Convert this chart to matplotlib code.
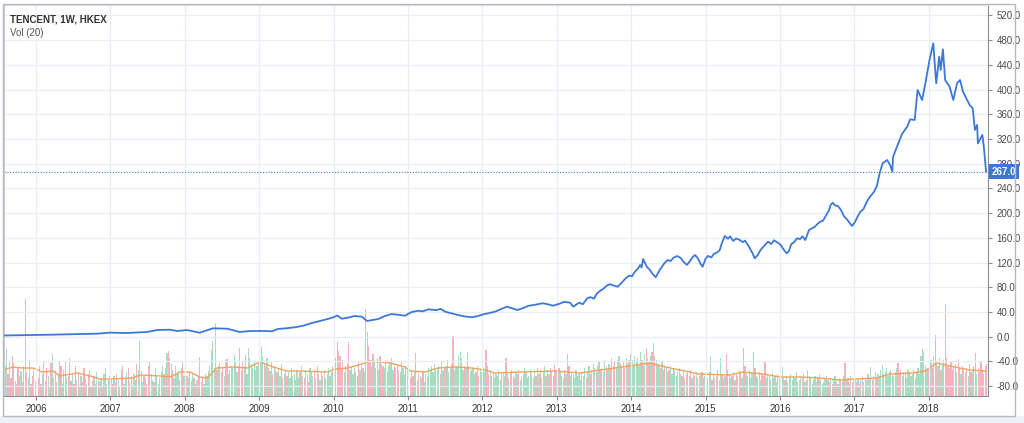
import matplotlib
matplotlib.use('Agg')
import matplotlib.pyplot as plt
from matplotlib.patches import Rectangle

plt.rcParams['font.family'] = ['Liberation Sans', 'DejaVu Sans']

# weekly close (decimal year, HKD)
price_t = [2005.57, 2006.19, 2006.82, 2006.99, 2007.22, 2007.49, 2007.63, 2007.80, 2007.90, 2008.03,
           2008.20, 2008.38, 2008.57, 2008.74, 2008.88, 2009.08, 2009.17, 2009.25, 2009.35, 2009.48,
           2009.60, 2009.71, 2009.82, 2009.92, 2010.00, 2010.05, 2010.11, 2010.20, 2010.28, 2010.38,
           2010.45, 2010.52, 2010.60, 2010.68, 2010.78, 2010.86, 2010.96, 2011.05, 2011.14, 2011.20,
           2011.27, 2011.38, 2011.44, 2011.50, 2011.58, 2011.67, 2011.75, 2011.86, 2011.94, 2012.03,
           2012.10, 2012.17, 2012.24, 2012.33, 2012.40, 2012.47, 2012.55, 2012.62, 2012.70, 2012.81,
           2012.88, 2012.95, 2013.04, 2013.10, 2013.18, 2013.22, 2013.30, 2013.35, 2013.41, 2013.45,
           2013.50, 2013.54, 2013.58, 2013.62, 2013.67, 2013.71, 2013.76, 2013.82, 2013.88, 2013.94,
           2013.98, 2014.01, 2014.05, 2014.09, 2014.12, 2014.14, 2014.16, 2014.21, 2014.25, 2014.29,
           2014.33, 2014.36, 2014.39, 2014.44, 2014.49, 2014.53, 2014.57, 2014.62, 2014.67, 2014.70,
           2014.75, 2014.80, 2014.83, 2014.86, 2014.90, 2014.93, 2014.96, 2015.00, 2015.03, 2015.08,
           2015.11, 2015.15, 2015.19, 2015.22, 2015.26, 2015.30, 2015.33, 2015.37, 2015.41, 2015.46,
           2015.50, 2015.53, 2015.57, 2015.61, 2015.63, 2015.66, 2015.70, 2015.74, 2015.78, 2015.84,
           2015.88, 2015.92, 2015.97, 2016.01, 2016.05, 2016.09, 2016.12, 2016.15, 2016.19, 2016.23,
           2016.27, 2016.30, 2016.34, 2016.39, 2016.43, 2016.47, 2016.50, 2016.54, 2016.58, 2016.62,
           2016.66, 2016.68, 2016.71, 2016.74, 2016.78, 2016.82, 2016.86, 2016.90, 2016.94, 2016.97,
           2017.01, 2017.04, 2017.08, 2017.12, 2017.15, 2017.18, 2017.22, 2017.26, 2017.30, 2017.34,
           2017.38, 2017.44, 2017.48, 2017.51, 2017.52, 2017.59, 2017.64, 2017.71, 2017.75, 2017.81,
           2017.85, 2017.91, 2017.95, 2018.01, 2018.06, 2018.10, 2018.14, 2018.16, 2018.19, 2018.22,
           2018.28, 2018.33, 2018.38, 2018.42, 2018.46, 2018.55, 2018.59, 2018.62, 2018.65, 2018.66,
           2018.72, 2018.74, 2018.77]
prices = [2.0, 3.2, 4.9, 6.5, 6.0, 7.6, 10.8, 11.3, 9.2, 10.8,
          6.5, 13.6, 12.9, 7.6, 9.2, 9.2, 8.7, 12.5, 13.5, 15.2,
          18.0, 22.2, 25.5, 28.6, 31.5, 34.3, 29.1, 31.0, 33.5, 32.4,
          25.4, 27.0, 28.6, 33.0, 36.7, 35.5, 34.0, 40.0, 42.0, 41.0,
          44.3, 43.0, 45.0, 40.5, 38.0, 35.1, 33.0, 31.4, 33.5, 36.7,
          38.5, 40.5, 44.0, 48.6, 46.0, 43.2, 46.5, 50.0, 51.5, 54.1,
          52.5, 50.2, 53.5, 56.5, 55.0, 48.6, 55.0, 52.5, 62.2, 64.0,
          61.5, 70.0, 74.0, 77.0, 82.5, 85.0, 83.0, 80.9, 88.5, 96.1,
          99.0, 97.5, 105.2, 110.0, 116.0, 112.0, 125.8, 113.3, 108.0, 101.5,
          96.1, 103.0, 109.1, 118.0, 124.1, 122.5, 128.0, 130.6, 127.0, 121.5,
          116.1, 124.0, 129.5, 132.2, 126.0, 118.5, 113.3, 126.0, 130.6, 128.5,
          134.0, 136.0, 140.0, 152.0, 163.0, 158.5, 162.5, 155.0, 159.0, 156.5,
          153.0, 155.5, 148.4, 140.0, 135.5, 126.9, 132.0, 140.5, 146.0, 153.8,
          150.0, 156.0, 152.2, 148.5, 141.0, 135.0, 138.5, 149.5, 153.0, 159.3,
          158.0, 162.5, 156.5, 172.7, 175.5, 178.0, 182.0, 186.1, 188.0, 196.5,
          205.0, 213.0, 216.9, 212.5, 211.5, 205.0, 195.0, 190.0, 183.5, 179.2,
          186.0, 193.5, 202.3, 206.0, 214.0, 221.3, 228.0, 234.0, 242.8, 265.0,
          280.7, 286.0, 277.9, 267.1, 291.3, 313.0, 328.1, 339.9, 351.9, 350.8,
          399.3, 383.1, 407.4, 447.9, 474.9, 410.2, 453.2, 431.7, 465.2, 415.5,
          404.7, 383.1, 410.2, 415.5, 396.6, 375.0, 369.7, 334.6, 342.7, 313.0,
          326.5, 307.5, 267.0]
last_price = 267.0

# weekly volume per year, negative = down week (pink), positive = up week (green)
vol_2005 = [30, 47, -22, 35, -18, -40, -33, 15, -12, -28, 20, 25, -14, -30, -97, -24, 18, 36, -12, -20, 26, 15]
vol_2006 = [25, -18, 30, -12, 22, -35, 15, -28, 20, 10, -33, 42, 18, -25, -14, 22, -35, -30, 12, -26,
            -34, 18, -20, 38, -15, 22, -12, -30, 16, -24, 10, 20, -14, -28, 18, 12, -22, 26, 10, -15,
            20, 12, 24, -16, 14, 18, -10, 22, 28, -12, 16, 20]
vol_2007 = [18, -12, 20, 14, -22, 16, -10, -26, -30, 12, -18, 24, -28, 15, -20, 10, 22, -16, -32, 26,
            55, -25, 14, -20, 18, -12, -30, -34, 22, 16, -14, -28, 20, 12, -18, 24, 30, -22, 28, 43,
            -45, -38, 32, -26, 18, -30, 22, 25, -16, 28, -34, 20]
vol_2008 = [26, -20, 18, -24, -15, 22, -18, -12, 16, -20, -39, 14, -18, 12, -22, 20, 25, 30, -46, 55,
            28, 73, -26, 30, -33, 24, -28, 20, 36, -37, 22, 26, -30, 28, 41, -34, 24, -30, -48, 26,
            -35, 30, -41, 22, 48, -38, -32, 28, 35, -26, 30, 33]
vol_2009 = [35, -49, 40, -32, 30, 38, -28, 25, 34, -22, 30, 26, -24, 28, 20, 32, -18, 22, -26, -20,
            24, 18, -28, 20, 22, -16, 26, 18, -24, 30, 20, -18, 26, 22, -14, 28, 24, 20, -26, 18,
            30, -22, 16, 24, -20, 26, 18, -22, 28, 20, 24, 30]
vol_2010 = [-30, -38, -54, -45, -40, 28, -36, 24, 30, -32, -54, 26, -30, 22, 28, -24, 20, -34, 26, 30,
            -28, 24, -87, -64, -50, -36, 30, -42, 34, -28, 38, 26, -40, 32, -30, 28, 36, -24, 30, 34,
            -38, 26, -30, 28, 32, -26, 24, -34, 28, 22, -30, 26]
vol_2011 = [22, -18, 26, -20, 24, -43, 16, -22, 20, 18, -24, 14, 22, -20, 28, 26, -30, 24, 32, -26,
            28, 30, -22, 34, 26, -28, 30, -36, 24, 28, -32, -60, 26, 30, -28, 40, 44, -38, 26, -30,
            28, 44, -30, 24, -26, 28, 22, -24, 30, -20, 26, 24]
vol_2012 = [-28, 24, -46, 30, -22, 26, 20, -24, 18, 22, -20, 26, 16, -22, 24, 20, -38, 22, 18, -24,
            26, 20, -18, 24, 22, -26, 16, 20, -22, 28, 24, -18, 20, 26, -22, 18, 24, -20, 28, 22,
            -26, 18, 24, 30, -20, 26, 22, -28, 24, 20, -32, 26]
vol_2013 = [22, -28, 24, -20, 18, -26, 22, -42, -30, 20, 24, -22, 18, 26, -20, 22, 16, -24, 20, 28,
            -18, 24, 30, -22, 26, 32, 28, -24, 30, 34, -26, 28, 24, 36, -30, 26, 32, -28, 38, 30,
            -34, 28, 36, 40, -32, 30, 34, -28, 38, 32, -36, 42]
vol_2014 = [36, -30, 40, 34, -38, 32, 44, -36, 30, 42, -48, 38, -34, 40, -44, 53, -40, 36, -32, 30,
            -28, 34, 26, -30, 28, 24, -26, 30, 22, -28, 26, 20, -24, 28, 22, -20, 26, 18, -22, 24,
            20, -26, 18, 22, -20, 24, -18, 20, 22, -24, 18, 20]
vol_2015 = [20, -18, 24, 40, -16, 22, 18, -20, 26, 16, 38, -22, 18, 20, -43, -26, 22, 18, -20, 24,
            16, -22, 20, 26, -24, 18, -48, -30, 22, 20, -26, 18, 24, 44, -28, 20, -18, 24, 16, -22,
            20, -34, 18, 22, -20, 16, 24, -18, 20, 14, -22, 18]
vol_2016 = [-22, 29, 18, -16, 20, 14, -18, 22, 16, -20, 18, 24, -14, 16, 20, -18, 22, 14, 16, 26,
            -20, 18, 12, -16, 20, 14, -18, 22, 16, 12, -14, 18, 20, -16, 14, 18, -12, 16, 20, -14,
            12, 18, -16, 14, -20, -33, 16, -18, 12, 20, -14, 18]
vol_2017 = [16, -14, 18, 12, -16, 20, 14, -18, 16, 22, 18, 29, -16, 20, 24, -18, 22, 20, 26, 31,
            -22, 24, 28, 20, -24, 26, 22, -20, 24, 28, -33, 22, -26, 20, 24, -22, 18, 26, -24, 20,
            22, -26, 18, 24, 28, -22, 40, 48, 45, -30, 26, -28]
vol_2018 = [-30, 36, -28, -40, -61, -34, 30, -38, -26, 32, -36, -92, -38, -30, 28, -34, -26, 30, -32, 24,
            -37, -28, 22, -30, -26, 24, -28, 20, -32, -24, 26, -30, -43, 22, -28, 24, -34, -26, 22, -30,
            -32]

# Vol(20) moving average line
ma_t = [2005.56, 2005.69, 2005.83, 2005.96, 2006.09, 2006.23, 2006.32, 2006.55, 2006.73, 2006.86,
        2006.99, 2007.30, 2007.40, 2007.67, 2007.80, 2007.94, 2008.07, 2008.20, 2008.30, 2008.43,
        2008.65, 2008.84, 2009.01, 2009.19, 2009.37, 2009.55, 2009.92, 2010.02, 2010.19, 2010.38,
        2010.49, 2010.76, 2010.96, 2011.03, 2011.23, 2011.40, 2011.63, 2011.86, 2012.03, 2012.17,
        2012.51, 2012.99, 2013.31, 2013.58, 2013.98, 2014.25, 2014.52, 2014.92, 2015.33, 2015.50,
        2015.77, 2016.00, 2016.27, 2016.54, 2016.81, 2017.01, 2017.30, 2017.48, 2017.79, 2017.95,
        2018.11, 2018.28, 2018.55, 2018.76]
ma_v = [26, 29, 28, 28, 24, 25, 20, 23, 20, 17, 17, 18, 21, 20, 19, 24, 24, 19, 18, 28,
        29, 28, 34, 29, 25, 25, 24, 27, 28, 32, 35, 33, 29, 25, 24, 28, 29, 28, 26, 23,
        24, 25, 23, 26, 30, 33, 28, 22, 21, 24, 22, 19, 19, 18, 16, 17, 18, 22, 23, 25,
        33, 30, 26, 25]

years = list(range(2006, 2019))
price_ticks = list(range(-80, 521, 40))

vol_by_year = {2005: vol_2005, 2006: vol_2006, 2007: vol_2007, 2008: vol_2008, 2009: vol_2009,
               2010: vol_2010, 2011: vol_2011, 2012: vol_2012, 2013: vol_2013, 2014: vol_2014,
               2015: vol_2015, 2016: vol_2016, 2017: vol_2017, 2018: vol_2018}

bar_x, bar_h, bar_c = [], [], []
for yr, vals in vol_by_year.items():
    first_wk = 30 if yr == 2005 else 0
    for k, v in enumerate(vals):
        bar_x.append(yr + (first_wk + k + 0.5) / 52.0)
        bar_h.append(abs(v))
        bar_c.append('#a9dcc0' if v > 0 else '#f5b2bc')

BLUE = '#3d78d8'
GRID = '#e7eef5'
AXIS = '#8c8c8c'

fig = plt.figure(figsize=(10.24, 4.23), dpi=100)
fig.patch.set_facecolor('white')
ax = fig.add_axes([4/1024, 27/423, 984/1024, 391/423])
axv = ax.twinx()

# volume pane
axv.bar(bar_x, bar_h, width=0.85/52, color=bar_c, linewidth=0)
axv.plot(ma_t, ma_v, color='#f6a25e', lw=1.0)
axv.set_ylim(0, 391)
axv.set_yticks([])
for s in axv.spines.values():
    s.set_visible(False)

ax.set_zorder(axv.get_zorder() + 1)
ax.patch.set_visible(False)

# price pane
ax.plot(price_t, prices, color=BLUE, lw=1.3, zorder=3, solid_joinstyle='round')
ax.axhline(last_price, color=BLUE, lw=0.8, ls=(0, (1, 1.5)), zorder=2)

ax.set_xlim(2005.57, 2018.796)
ax.set_ylim(-96.0, 536.9)

ax.yaxis.tick_right()
ax.set_yticks(price_ticks)
ax.set_yticklabels([f'{v:.1f}' for v in price_ticks])
ax.set_xticks(years)
ax.set_xticklabels([str(y) for y in years])
ax.tick_params(axis='y', direction='out', length=3, width=0.8, color=AXIS,
               labelsize=7, labelcolor='#4a4a4a', pad=3)
ax.tick_params(axis='x', direction='out', length=3, width=0.8, color=AXIS,
               labelsize=7, labelcolor='#333333', pad=3)
ax.grid(color=GRID, linewidth=0.9, zorder=0)
ax.set_axisbelow(True)

ax.spines['left'].set_color('#cfd3d9')
ax.spines['top'].set_color('#dfe3e8')
ax.spines['right'].set_color(AXIS)
ax.spines['bottom'].set_color(AXIS)

# last price tag (covers the 280.0 label, as on the reference)
ax.text(1.004, last_price, f'{last_price:.1f}', transform=ax.get_yaxis_transform(),
        ha='left', va='center', fontsize=7, fontweight='bold', color='white', zorder=10,
        bbox=dict(boxstyle='square,pad=0.28', fc=BLUE, ec='none'), clip_on=False)

# outer frame and bottom strip
fig.patches.append(Rectangle((0, 0), 1, 7/423, transform=fig.transFigure,
                             facecolor='#eef1f5', edgecolor='none', zorder=0))
fig.patches.append(Rectangle((3/1024, 7/423), 1012/1024, 412/423, transform=fig.transFigure,
                             facecolor='none', edgecolor='#b5b9bf', lw=1.0, zorder=1))

fig.text(10/1024, 1 - 19/423, 'TENCENT, 1W, HKEX', fontsize=7, fontweight='bold',
         color='#333333', va='center')
fig.text(10/1024, 1 - 33/423, 'Vol (20)', fontsize=7, color='#555555', va='center')

fig.savefig('out.png', dpi=100)
